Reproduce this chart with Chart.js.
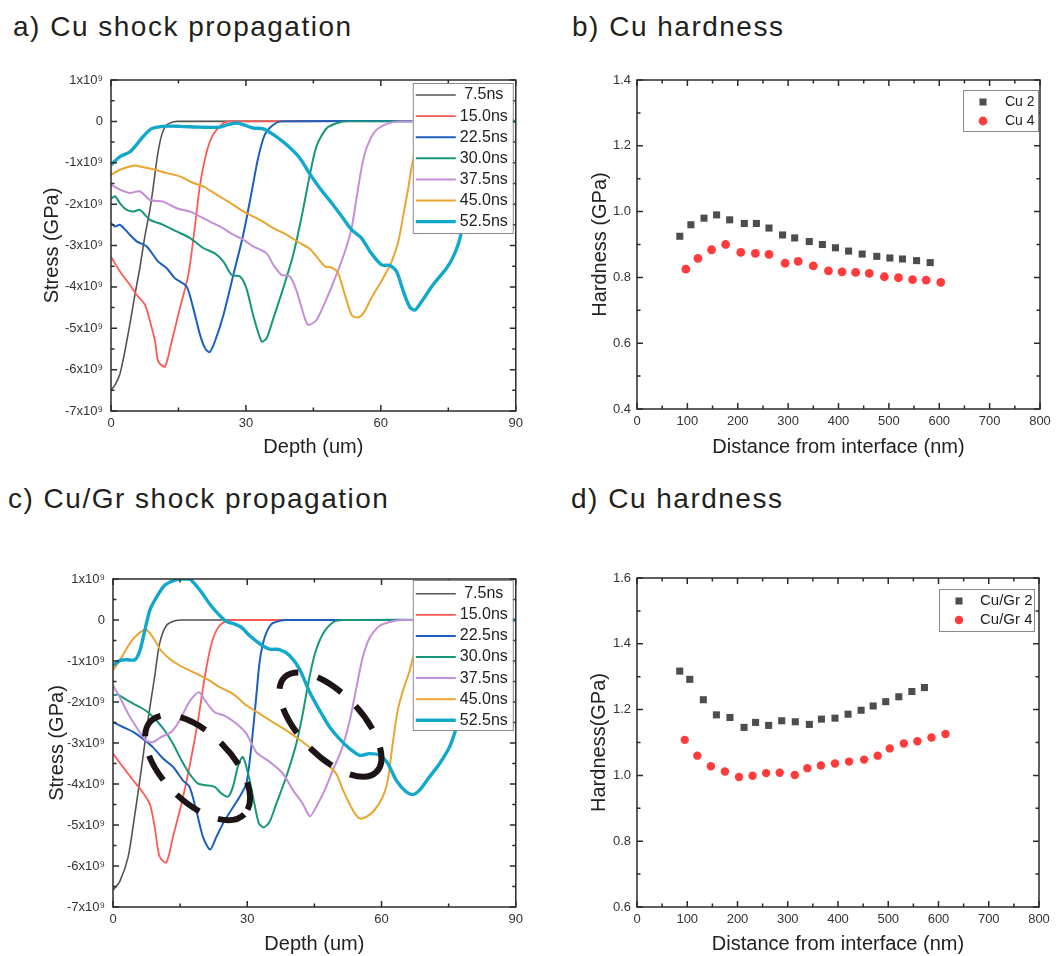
<!DOCTYPE html>
<html>
<head>
<meta charset="utf-8">
<script src="https://cdn.jsdelivr.net/npm/chart.js@4.4.1/dist/chart.umd.min.js"></script>
<style>
  html, body { margin: 0; padding: 0; background: #fff; }
  body { width: 1056px; height: 956px; position: relative; overflow: hidden;
         font-family: Arial, "Liberation Sans", Helvetica, sans-serif; }
  .panel-title { position: absolute; font-size: 28px; letter-spacing: 1.5px; color: #231f20;
                 line-height: 1; white-space: nowrap; }
  canvas { position: absolute; }
</style>
</head>
<body>
<div class="panel-title" style="left:13px;top:13px;">a) Cu shock propagation</div>
<div class="panel-title" style="left:572px;top:13px;">b) Cu hardness</div>
<div class="panel-title" style="left:8px;top:485px;">c) Cu/Gr shock propagation</div>
<div class="panel-title" style="left:571px;top:485px;">d) Cu hardness</div>

<canvas id="chartA" width="528" height="411" style="left:0;top:60px;width:528px;height:411px;"></canvas>
<canvas id="chartB" width="528" height="411" style="left:528px;top:60px;width:528px;height:411px;"></canvas>
<canvas id="chartC" width="528" height="396" style="left:0;top:560px;width:528px;height:396px;"></canvas>
<canvas id="chartD" width="528" height="396" style="left:528px;top:560px;width:528px;height:396px;"></canvas>

<script>
// --- stress profiles, [depth (um), stress (x10^9)] per snapshot time ---
const timeLabels = ['7.5ns', '15.0ns', '22.5ns', '30.0ns', '37.5ns', '45.0ns', '52.5ns'];

// a) pure Cu
const cuA75 = [[0,-6.5],[1,-6.35],[2,-6.1],[3,-5.6],[4.2,-4.9],[5.3,-4.2],[6.4,-3.55],[7.5,-2.8],[8.7,-2.1],[9.5,-1.5],[10.1,-1.0],[10.7,-0.6],[11.3,-0.32],[12,-0.14],[12.7,-0.06],[14.6,0],[90,0]];
const cuA150 = [[0,-3.27],[2,-3.63],[4.2,-3.95],[5.7,-4.19],[7.6,-4.44],[8.7,-4.84],[9.8,-5.32],[10.5,-5.8],[12,-5.93],[13.5,-5.32],[15.3,-4.52],[17.2,-3.71],[18.7,-2.5],[19.8,-1.53],[21.3,-0.73],[22.7,-0.32],[25,-0.04],[26.4,0],[90,0]];
const cuA225 = [[0,-2.46],[0.9,-2.54],[2,-2.5],[4.2,-2.74],[5.7,-2.9],[7.9,-3.02],[10.5,-3.39],[12.4,-3.55],[14.2,-3.79],[16.8,-3.99],[18.3,-4.52],[19.8,-5.16],[20.9,-5.48],[21.9,-5.58],[23.1,-5.32],[25,-4.68],[27.2,-3.71],[29.4,-2.74],[31.3,-1.69],[32.7,-0.89],[34.2,-0.32],[36.1,-0.08],[37.9,0],[90,0]];
const cuA300 = [[0,-1.87],[0.9,-1.81],[2,-1.98],[3.5,-2.14],[5,-2.18],[6.4,-2.14],[8.7,-2.38],[11.6,-2.5],[14.6,-2.66],[17.6,-2.82],[20.5,-3.06],[23.1,-3.19],[25,-3.39],[26.8,-3.71],[28.7,-3.75],[30.1,-4.03],[31.6,-4.68],[33.5,-5.32],[34.6,-5.24],[36.1,-4.76],[38.3,-4.03],[40.5,-3.23],[42.4,-2.3],[44.2,-1.3],[45.7,-0.6],[48,-0.16],[50.9,-0.02],[52.4,0],[90,0]];
const cuA375 = [[0,-1.53],[2,-1.65],[4.2,-1.73],[6.4,-1.69],[8.7,-1.9],[11.6,-1.94],[14.6,-2.1],[17.6,-2.18],[20.5,-2.34],[24.2,-2.54],[27.2,-2.74],[29.4,-2.86],[31.6,-3.02],[34.6,-3.19],[36.1,-3.47],[37.9,-3.71],[39.8,-3.75],[41.3,-4.11],[43.1,-4.76],[43.9,-4.92],[45.7,-4.8],[48,-4.27],[50.1,-3.71],[52,-3.15],[53.5,-2.58],[54.6,-1.85],[55.7,-1.13],[56.8,-0.65],[58.7,-0.24],[61.3,-0.06],[64.2,0],[90,0]];
const cuA450 = [[0,-1.29],[2,-1.17],[5,-1.07],[7.2,-1.11],[9.8,-1.17],[12.4,-1.25],[15.3,-1.33],[18.3,-1.49],[20.5,-1.57],[23.5,-1.77],[27.2,-2.02],[30.1,-2.22],[33.1,-2.38],[36.1,-2.58],[39,-2.74],[42,-2.94],[44.2,-3.08],[46,-3.31],[47.6,-3.51],[49,-3.53],[50.5,-3.67],[52,-4.19],[53.5,-4.68],[54.9,-4.74],[56.1,-4.64],[57.9,-4.27],[60.5,-3.79],[62.4,-3.39],[63.9,-2.9],[65,-2.26],[66.1,-1.61],[66.8,-1.13],[68,-0.5],[70,-0.08],[72,0],[90,0]];
const cuA525 = [[0,-1.05],[2,-0.85],[4.2,-0.74],[5.7,-0.56],[7.2,-0.36],[9,-0.18],[11.6,-0.12],[15.3,-0.12],[19.8,-0.14],[24.2,-0.14],[26,-0.08],[27.9,-0.04],[29.4,-0.08],[31.6,-0.16],[33.9,-0.18],[36.1,-0.32],[39,-0.56],[42,-0.89],[44.2,-1.27],[46.4,-1.61],[49.4,-2.02],[51.6,-2.34],[53.5,-2.62],[55.7,-2.82],[57.9,-3.19],[60.2,-3.47],[62,-3.48],[63.5,-3.63],[65,-4.11],[66.4,-4.48],[67.6,-4.56],[69.1,-4.35],[71.6,-3.95],[74.6,-3.55],[76.1,-3.27],[77.6,-2.82],[80,-1.6],[82,-0.6],[84,-0.1],[86,0],[90,0]];

// c) Cu/graphene
const grC75 = [[0,-6.59],[1.5,-6.38],[3.4,-5.77],[4.8,-4.8],[6.3,-3.67],[7.8,-2.45],[9.3,-1.39],[10.4,-0.58],[11.9,-0.14],[13.8,-0.02],[15.6,0],[90,0]];
const grC150 = [[0,-3.26],[2.2,-3.58],[4.5,-3.91],[6.3,-4.15],[8.2,-4.48],[9.3,-5.04],[10.4,-5.77],[11.9,-5.92],[13.4,-5.29],[15.3,-4.48],[17.1,-3.58],[19,-2.45],[20.5,-1.39],[22,-0.58],[23.5,-0.18],[25.3,-0.02],[26.8,0],[90,0]];
const grC225 = [[0,-2.49],[0.7,-2.53],[2.2,-2.61],[4.5,-2.73],[6.7,-2.9],[8.9,-3.1],[11.2,-3.38],[13.4,-3.58],[15.6,-3.91],[17.1,-4.07],[18.6,-4.64],[20.1,-5.29],[21.7,-5.6],[23.1,-5.29],[24.6,-4.96],[26.4,-4.64],[28.3,-4.31],[29.8,-3.99],[30.9,-3.1],[32,-1.88],[32.8,-0.99],[33.9,-0.42],[35.4,-0.1],[37.2,-0.02],[38.7,0],[90,0]];
const grC300 = [[0,-1.84],[1.1,-1.82],[2.6,-1.92],[4.5,-2.04],[6.3,-2.14],[7.8,-2.25],[9.7,-2.45],[11.5,-2.69],[13.4,-3.02],[15.3,-3.42],[17.1,-3.75],[19,-3.99],[20.8,-4.03],[22.7,-4.07],[24.2,-4.23],[25.7,-4.31],[26.8,-4.07],[27.9,-3.58],[29,-3.34],[30.2,-3.75],[31.6,-4.48],[32.6,-4.96],[33.7,-5.06],[35,-4.92],[36.5,-4.48],[38.7,-3.83],[41,-3.0],[42.4,-2.29],[43.6,-1.56],[45.1,-0.83],[46.9,-0.34],[49.1,-0.06],[51.4,0],[90,0]];
const grC375 = [[0,-1.6],[1.5,-1.88],[3.4,-2.29],[5.2,-2.61],[7.4,-2.94],[8.9,-2.98],[10.8,-2.85],[13,-2.73],[14.9,-2.45],[16.8,-2.04],[18.2,-1.84],[19.2,-1.76],[20.8,-2.0],[22.7,-2.25],[24.9,-2.33],[27.6,-2.53],[29.8,-2.77],[32,-3.22],[35,-3.46],[38,-3.75],[40.2,-4.15],[42.4,-4.48],[44,-4.79],[45.4,-4.56],[47.3,-4.15],[49.1,-3.67],[51,-3.18],[52.9,-2.45],[54.4,-1.64],[55.8,-0.91],[57.4,-0.42],[59.6,-0.14],[62.5,-0.03],[64.8,0],[90,0]];
const grC450 = [[0,-1.23],[1.5,-0.99],[3.7,-0.58],[5.6,-0.34],[7.4,-0.24],[8.9,-0.42],[10.8,-0.75],[12.7,-0.95],[14.9,-1.11],[17.1,-1.23],[19.4,-1.35],[21.6,-1.48],[23.8,-1.64],[26.8,-1.8],[29.8,-2.08],[32.8,-2.29],[35.7,-2.49],[38.7,-2.69],[41.7,-2.92],[44.7,-3.18],[47.7,-3.5],[49.9,-3.75],[51.4,-4.15],[53.6,-4.64],[55.1,-4.84],[56.6,-4.8],[58.4,-4.64],[60.3,-4.31],[61.4,-3.91],[62.5,-3.02],[63.6,-2.21],[64.8,-1.72],[66.3,-1.23],[68,-0.5],[70,-0.08],[72,0],[90,0]];
const grC525 = [[0,-1.11],[1.5,-0.99],[3,-0.97],[4.9,-0.97],[6,-0.75],[7.1,-0.26],[8.2,0.23],[9.7,0.55],[11.5,0.84],[13.8,0.97],[15.6,1.0],[17.1,1.0],[18.6,0.84],[20.1,0.63],[21.6,0.39],[23.5,0.15],[25.3,-0.03],[27.2,-0.1],[28.7,-0.18],[30.5,-0.38],[32.8,-0.58],[35,-0.71],[37.2,-0.72],[39.5,-0.87],[41.7,-1.2],[43.9,-1.75],[46.2,-2.21],[48.4,-2.61],[50.6,-2.9],[52.9,-3.14],[55.1,-3.3],[57.3,-3.26],[59.6,-3.3],[61.4,-3.5],[63.3,-3.91],[65.5,-4.19],[67,-4.26],[68.5,-4.15],[70.7,-3.83],[73,-3.5],[75.2,-3.1],[76.3,-2.77],[78.5,-2.0],[81,-1.0],[83,-0.3],[85,-0.02],[86,0],[90,0]];

// regions circled in c), centre in data units
const ringDepth = [18.9, 48.6];
const ringStress = [-3.6, -2.55];

// --- nanoindentation hardness vs distance from interface ---
const cu2Dist = [85,107,133,158,184,213,237,262,289,313,342,368,394,420,447,476,502,527,555,582];
const cu2Hard = [0.925,0.960,0.980,0.990,0.975,0.964,0.964,0.950,0.929,0.920,0.909,0.900,0.890,0.880,0.871,0.864,0.859,0.856,0.851,0.845];
const cu4Dist = [97,121,148,176,206,235,262,294,320,350,380,407,434,461,491,519,547,574,603];
const cu4Hard = [0.825,0.858,0.884,0.900,0.876,0.873,0.870,0.843,0.849,0.835,0.820,0.817,0.815,0.812,0.802,0.799,0.793,0.792,0.785];
const gr2Dist = [85,105,132,158,185,213,236,262,288,315,343,367,394,420,446,470,495,521,547,572];
const gr2Hard = [1.317,1.292,1.230,1.184,1.176,1.146,1.161,1.152,1.166,1.163,1.155,1.171,1.174,1.186,1.198,1.211,1.224,1.239,1.255,1.267];
const gr4Dist = [95,120,147,175,203,230,257,284,314,339,366,394,422,452,479,503,531,558,586,614];
const gr4Hard = [1.108,1.060,1.028,1.012,0.995,0.999,1.007,1.008,1.001,1.022,1.030,1.036,1.042,1.048,1.060,1.082,1.097,1.104,1.115,1.126];

// styling
const lineColors = ['#545454', '#fb5a55', '#1b5fbf', '#17977a', '#c58ed8', '#eaa530', '#12a8cc'];
const lineWidths = [1.6, 1.8, 2, 2, 2, 2, 3.4];
const FONT = 'Arial, "Liberation Sans", Helvetica, sans-serif';

Chart.defaults.font.family = FONT;
Chart.defaults.color = '#333';

// closed frame with inward major/minor ticks on all four sides
const originFrame = {
  id: 'originFrame',
  afterDatasetsDraw(chart) {
    const { ctx, chartArea: a, scales } = chart;
    const seg = (x1, y1, x2, y2) => { ctx.moveTo(x1, y1); ctx.lineTo(x2, y2); };
    ctx.save();
    ctx.strokeStyle = '#2b2b2b';
    ctx.lineWidth = 1.5;
    ctx.strokeRect(a.left, a.top, a.right - a.left, a.bottom - a.top);
    ctx.beginPath();
    ['x', 'y'].forEach(id => {
      const s = scales[id];
      const vals = s.ticks.map(t => t.value);
      const marks = [];
      vals.forEach((v, i) => {
        marks.push([v, 6]);
        if (i < vals.length - 1) marks.push([(v + vals[i + 1]) / 2, 3.5]);
      });
      marks.forEach(([v, len]) => {
        const p = s.getPixelForValue(v);
        if (id === 'x') { seg(p, a.bottom, p, a.bottom - len); seg(p, a.top, p, a.top + len); }
        else { seg(a.left, p, a.left + len, p); seg(a.right, p, a.right - len, p); }
      });
    });
    ctx.stroke();
    ctx.restore();
  }
};

// boxed legend inside the plot, top-right corner
const boxLegend = {
  id: 'boxLegend',
  afterDraw(chart, args, o) {
    if (!o || !o.width) return;
    const { ctx, chartArea: a } = chart;
    const left = a.right - o.right - o.width;
    const top = a.top + o.top;
    ctx.save();
    ctx.fillStyle = '#fff';
    ctx.fillRect(left, top, o.width, o.height);
    ctx.strokeStyle = '#8a8a8a';
    ctx.lineWidth = 1;
    ctx.strokeRect(left + 0.5, top + 0.5, o.width, o.height);
    ctx.font = o.fontSize + 'px ' + FONT;
    ctx.textBaseline = 'middle';
    ctx.textAlign = o.textAlign;
    chart.data.datasets.forEach((ds, i) => {
      const cy = top + o.firstRow + i * o.rowH;
      if (o.kind === 'line') {
        ctx.strokeStyle = ds.borderColor;
        ctx.lineWidth = ds.borderWidth;
        ctx.beginPath();
        ctx.moveTo(left + o.sampleX, cy);
        ctx.lineTo(left + o.sampleX + o.sampleW, cy);
        ctx.stroke();
      } else {
        ctx.fillStyle = ds.backgroundColor;
        ctx.beginPath();
        if (ds.pointStyle === 'rect') {
          const h = ds.pointRadius / Math.SQRT2;
          ctx.rect(left + o.markerX - h, cy - h, 2 * h, 2 * h);
        } else {
          ctx.arc(left + o.markerX, cy, ds.pointRadius, 0, Math.PI * 2);
        }
        ctx.fill();
      }
      ctx.fillStyle = '#222';
      ctx.fillText(ds.label, left + o.textX, cy);
    });
    ctx.restore();
  }
};

// thick dashed ellipses marking regions of interest
const dashedRings = {
  id: 'dashedRings',
  afterDatasetsDraw(chart, args, o) {
    if (!o || !o.depth) return;
    const { ctx, scales: { x, y } } = chart;
    ctx.save();
    ctx.strokeStyle = '#1d1515';
    ctx.lineWidth = 6;
    ctx.setLineDash([28, 20]);
    o.depth.forEach((d, i) => {
      ctx.beginPath();
      ctx.ellipse(x.getPixelForValue(d), y.getPixelForValue(o.stress[i]),
        o.rx[i], o.ry[i], o.rot[i] * Math.PI / 180, 0, Math.PI * 2);
      ctx.stroke();
    });
    ctx.restore();
  }
};

function axisTitle(text, pad) {
  return { display: true, text, color: '#222', font: { size: 20 }, padding: pad };
}

function baseOptions(L) {
  return {
    responsive: false,
    devicePixelRatio: 1,
    animation: false,
    events: [],
    layout: { padding: { top: L.padTop, right: L.padRight, left: 0, bottom: 0 } },
    plugins: { legend: { display: false }, tooltip: { enabled: false } },
    scales: {
      x: {
        type: 'linear', min: L.xMin, max: L.xMax,
        ticks: { stepSize: L.xStep, padding: 5, maxRotation: 0, autoSkip: false, color: '#333', font: { size: 13 } },
        grid: { display: false, drawTicks: false },
        border: { display: false },
        title: axisTitle(L.xTitle, { top: 0, bottom: L.xTitlePad }),
        afterFit: s => { s.height = L.xAxisH; }
      },
      y: {
        type: 'linear', min: L.yMin, max: L.yMax,
        ticks: { stepSize: L.yStep, padding: L.yTickPad, autoSkip: false, color: '#333', font: { size: 13 }, callback: L.yFmt },
        grid: { display: false, drawTicks: false },
        border: { display: false },
        title: axisTitle(L.yTitle, { top: L.yTitlePad, bottom: 0 }),
        afterFit: s => { s.width = L.yAxisW; }
      }
    }
  };
}

const stressFmt = v => (v === 0 ? '0' : v + 'x10\u2079');
const hardFmt = v => v.toFixed(1);

function stressChart(id, series, L, legendOpts, rings) {
  const datasets = series.map((pts, i) => ({
    label: timeLabels[i],
    data: pts.map(([d, s]) => ({ x: d, y: s })),
    borderColor: lineColors[i],
    borderWidth: lineWidths[i],
    pointRadius: 0,
    showLine: true,
    tension: 0.25,
    fill: false,
    order: series.length - i
  }));
  const opts = baseOptions(Object.assign({
    xMin: 0, xMax: 90, xStep: 30, yMin: -7, yMax: 1, yStep: 1,
    yFmt: stressFmt, xTitle: 'Depth (um)', yTitle: 'Stress (GPa)', yTickPad: 8
  }, L));
  opts.plugins.boxLegend = legendOpts;
  opts.plugins.dashedRings = rings || {};
  return new Chart(document.getElementById(id), {
    type: 'scatter',
    data: { datasets },
    options: opts,
    plugins: [originFrame, dashedRings, boxLegend]
  });
}

function hardnessChart(id, sets, L, legendOpts) {
  const datasets = sets.map(s => ({
    label: s.label,
    data: s.dist.map((d, i) => ({ x: d, y: s.hard[i] })),
    pointStyle: s.style,
    pointRadius: s.radius,
    backgroundColor: s.color,
    borderWidth: 0,
    showLine: false
  }));
  const opts = baseOptions(Object.assign({
    xMin: 0, xMax: 800, xStep: 100, yStep: 0.2, yFmt: hardFmt,
    xTitle: 'Distance from interface (nm)', yTickPad: 6
  }, L));
  opts.plugins.boxLegend = legendOpts;
  return new Chart(document.getElementById(id), {
    type: 'scatter',
    data: { datasets },
    options: opts,
    plugins: [originFrame, boxLegend]
  });
}

const lineLegend = (top, firstRow, rowH) => ({
  kind: 'line', width: 100, height: 150, right: 3, top, firstRow, rowH,
  sampleX: 3, sampleW: 40, textX: 71, textAlign: 'center', fontSize: 16
});

stressChart('chartA', [cuA75, cuA150, cuA225, cuA300, cuA375, cuA450, cuA525],
  { padTop: 20, padRight: 12, yAxisW: 111, xAxisH: 60, xTitlePad: 12, yTitlePad: 40 },
  lineLegend(3, 12, 21.1));

stressChart('chartC', [grC75, grC150, grC225, grC300, grC375, grC450, grC525],
  { padTop: 19, padRight: 12, yAxisW: 113, xAxisH: 49, xTitlePad: 0, yTitlePad: 45 },
  lineLegend(1, 13.7, 21.1),
  { depth: ringDepth, stress: ringStress, rx: [66, 66], ry: [34, 31], rot: [45, 46] });

hardnessChart('chartB', [
    { label: 'Cu 2', dist: cu2Dist, hard: cu2Hard, style: 'rect', radius: 5, color: '#4d4d4d' },
    { label: 'Cu 4', dist: cu4Dist, hard: cu4Hard, style: 'circle', radius: 4.4, color: '#ff3b3b' }
  ],
  { padTop: 20, padRight: 16, yAxisW: 109, xAxisH: 62, xTitlePad: 12, yTitlePad: 60,
    yMin: 0.4, yMax: 1.4, yTitle: 'Hardness (GPa)' },
  { kind: 'marker', width: 75, height: 41, right: 2, top: 10, firstRow: 12, rowH: 19,
    markerX: 20, textX: 42, textAlign: 'left', fontSize: 14 });

hardnessChart('chartD', [
    { label: 'Cu/Gr 2', dist: gr2Dist, hard: gr2Hard, style: 'rect', radius: 5, color: '#4d4d4d' },
    { label: 'Cu/Gr 4', dist: gr4Dist, hard: gr4Hard, style: 'circle', radius: 4.2, color: '#ff3b3b' }
  ],
  { padTop: 18, padRight: 17, yAxisW: 109, xAxisH: 49, xTitlePad: 0, yTitlePad: 59,
    yMin: 0.6, yMax: 1.6, yTitle: 'Hardness(GPa)' },
  { kind: 'marker', width: 95, height: 42, right: 5, top: 11, firstRow: 12, rowH: 19,
    markerX: 20, textX: 41, textAlign: 'left', fontSize: 15 });
</script>
</body>
</html>
